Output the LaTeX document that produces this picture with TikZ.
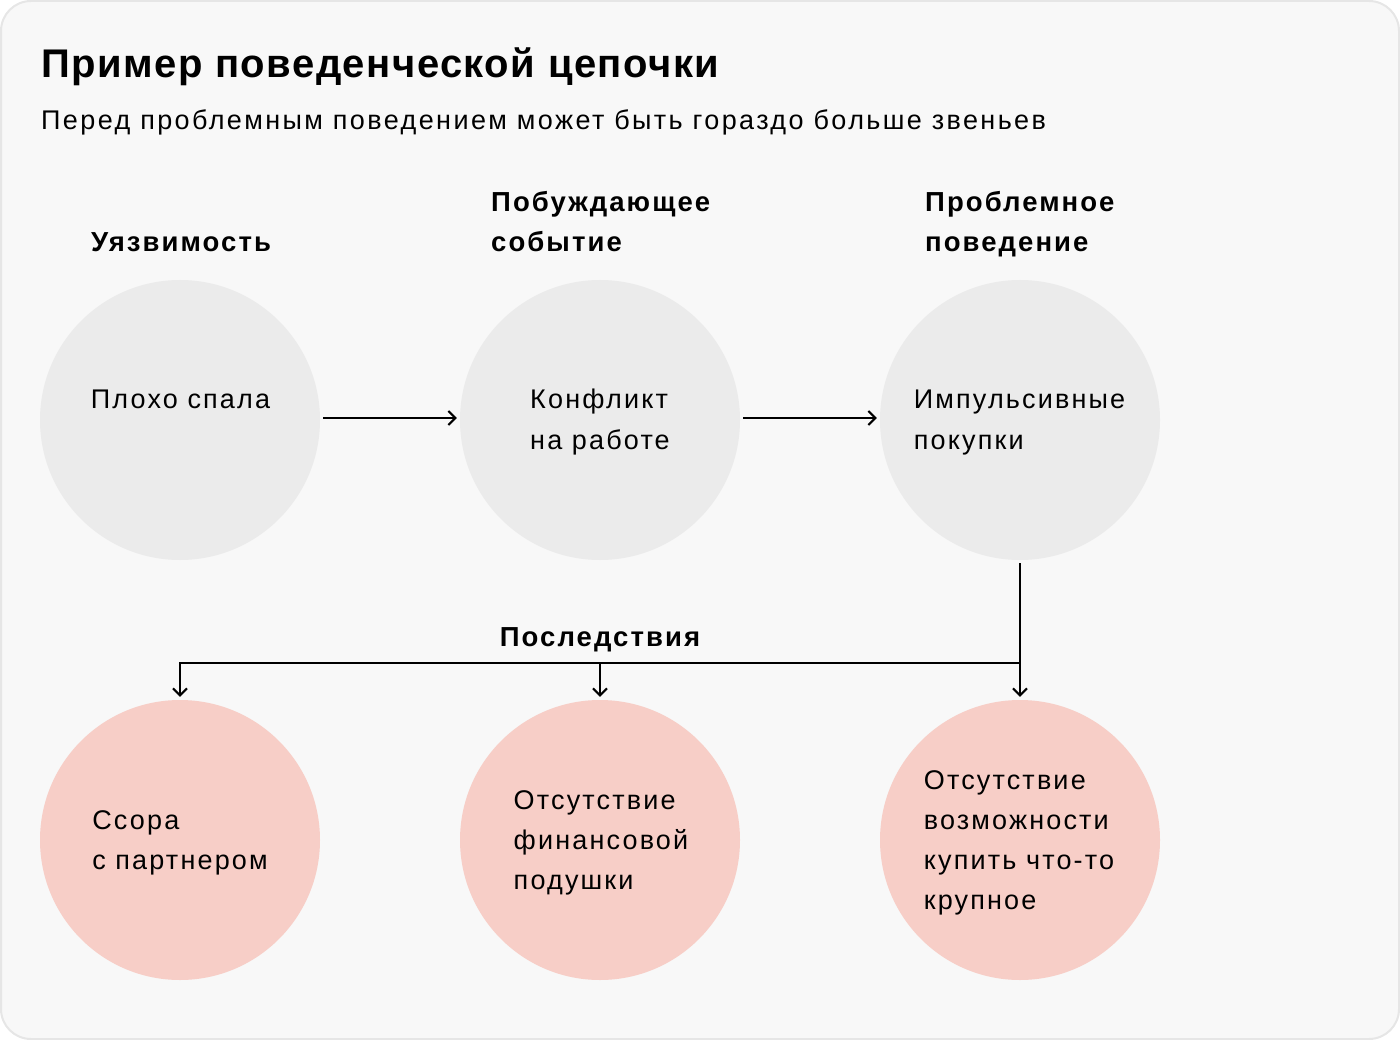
\documentclass[tikz,border=0pt]{standalone}
\usepackage{fontspec}
\setmainfont{Liberation Sans}
\newfontfamily\bodyfont[LetterSpace=8]{Liberation Sans}
\newfontfamily\subfont[LetterSpace=8.9]{Liberation Sans}
\newfontfamily\lblfont[LetterSpace=7.5]{Liberation Sans}
\newfontfamily\titlefont[LetterSpace=3.7]{Liberation Sans}
\usetikzlibrary{arrows.meta}
\definecolor{bgfill}{HTML}{F8F8F8}
\definecolor{bgline}{HTML}{E6E6E6}
\definecolor{graycirc}{HTML}{EBEBEB}
\definecolor{pinkcirc}{HTML}{F7CEC7}
\tikzset{
  bubble/.style={circle, minimum size=280pt, inner sep=0pt, draw=none},
  graybub/.style={bubble, fill=graycirc},
  pinkbub/.style={bubble, fill=pinkcirc},
  txt/.style={align=left, font=\bodyfont\fontsize{27}{40}\selectfont, inner sep=0pt, text=black, anchor=base},
  lbl/.style={align=left, font=\lblfont\fontsize{27.5}{40}\selectfont\bfseries, inner sep=0pt, text=black, anchor=base west},
  conn/.style={line width=2pt, -{Straight Barb[length=7pt,width=14pt,line width=2pt]}},
  line/.style={line width=2pt}
}
\begin{document}
\begin{tikzpicture}[x=1pt,y=-1pt]
\useasboundingbox (0,0) rectangle (1400,1040);
\draw[fill=bgfill, draw=bgline, line width=2pt, rounded corners=30pt] (1,1) rectangle (1399,1039);
\node[anchor=base west, inner sep=0pt, font=\titlefont\fontsize{40}{48}\selectfont\bfseries] (title) at (41,78) {Пример поведенческой цепочки};
\node[anchor=base west, inner sep=0pt, font=\subfont\fontsize{27}{34}\selectfont] (sub) at (41,130) {Перед проблемным поведением может быть гораздо больше звеньев};

\node[lbl, anchor=base] (l1) at (181,252) {Уязвимость};
\node[lbl] (l2a) at (491,212) {Побуждающее};
\node[lbl] (l2b) at (491,252) {событие};
\node[lbl] (l3a) at (925,212) {Проблемное};
\node[lbl] (l3b) at (925,252) {поведение};
\node[lbl, anchor=base] (l4) at (600,646) {Последствия};

\node[graybub] (a) at (180,420) {};
\node[graybub] (b) at (600,420) {};
\node[graybub] (c) at (1020,420) {};
\node[pinkbub] (d) at (180,840) {};
\node[pinkbub] (e) at (600,840) {};
\node[pinkbub] (f) at (1020,840) {};

\node[txt] (ta) at (180.5,409) {Плохо спала};
\node[txt] (tb) at (600,449) {Конфликт\\на работе};
\node[txt] (tc) at (1019.5,449) {Импульсивные\\покупки};
\node[txt] (td) at (180,869) {Ссора\\с партнером};
\node[txt] (te) at (601,889) {Отсутствие\\финансовой\\подушки};
\node[txt] (tf) at (1019,909) {Отсутствие\\возможности\\купить что-то\\крупное};

\draw[conn] ([xshift=3pt]a.east |- 0,418) -- ([xshift=-3pt]b.west |- 0,418);
\draw[conn] ([xshift=3pt]b.east |- 0,418) -- ([xshift=-3pt]c.west |- 0,418);
\coordinate (j) at (1020,663);
\draw[conn] ([yshift=-3pt]c.south) -- ([yshift=3pt]f.north);
\draw[line] (j) -- (180,663);
\draw[conn] (180,662) -- ([yshift=3pt]d.north);
\draw[conn] (600,662) -- ([yshift=3pt]e.north);
\end{tikzpicture}
\end{document}
